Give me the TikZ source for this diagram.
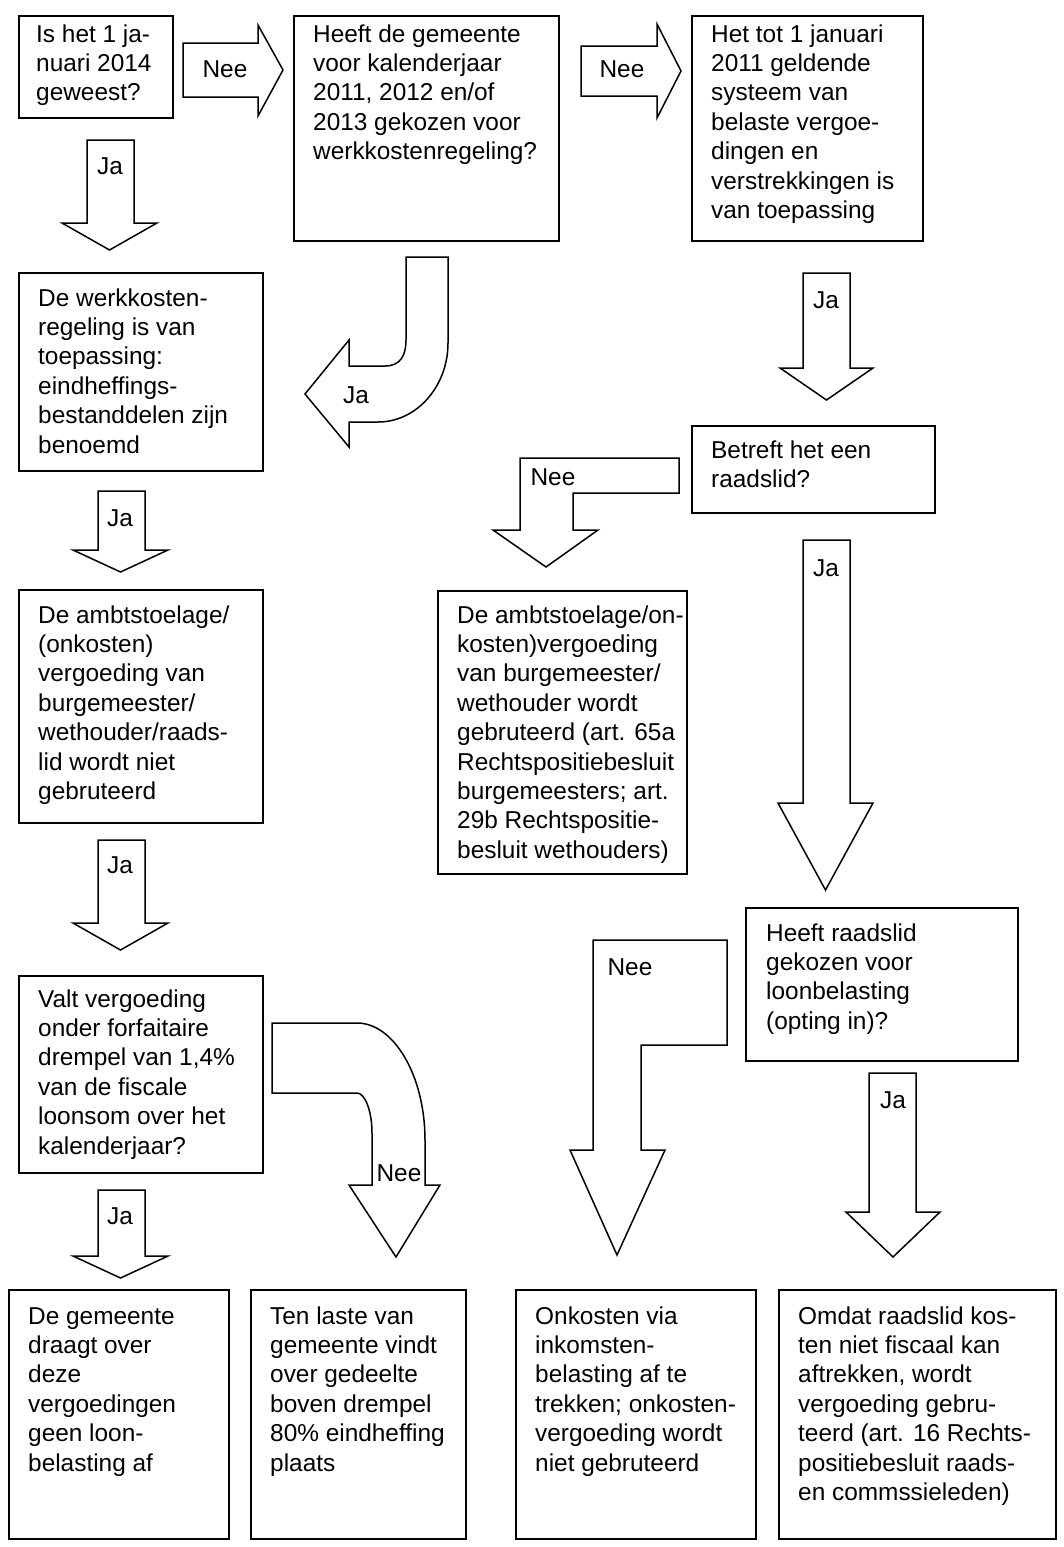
\documentclass[tikz,border=0pt]{standalone}
\usepackage{fontspec}
\setmainfont{Liberation Sans}
\tikzset{
  box/.style={draw, line width=1.8pt, inner sep=0pt},
  blk/.style={draw, line width=1.5pt, fill=white, line join=miter},
  txt/.style={anchor=base west, inner sep=0pt},
  lbl/.style={inner sep=0pt, anchor=center},
}
\newcommand{\mkbox}[5]{\node[box, anchor=north west, minimum width={(#4-#2)*1pt}, minimum height={(#5-#3)*1pt}] (#1) at (#2,#3) {};}
\newcommand{\mktxt}[4]{\node[txt] (#1) at (#2,#3) {\parbox[t]{400pt}{#4}};}
% down arrow: body xl xr, top, base, head hl hr, tip
\newcommand{\DArrow}[7]{\draw[blk] (#1,#3) -- (#2,#3) -- (#2,#4) -- (#6,#4) -- ({(#5+#6)/2},#7) -- (#5,#4) -- (#1,#4) -- cycle;}
\begin{document}
\fontsize{24.4}{29.4}\selectfont
\begin{tikzpicture}[x=1pt,y=-1pt]
\useasboundingbox (0,0) rectangle (1063,1547);

% boxes
\mkbox{A}{18}{15}{172}{117}
\mkbox{B}{293}{15}{558}{240}
\mkbox{C}{691}{15}{922}{240}
\mkbox{D}{18}{272}{262}{470}
\mkbox{E}{18}{589}{262}{822}
\mkbox{F}{18}{975}{262}{1172}
\mkbox{G}{8}{1289}{228}{1538}
\mkbox{H}{250}{1289}{465}{1538}
\mkbox{I}{515}{1289}{755}{1538}
\mkbox{J}{778}{1289}{1055}{1538}
\mkbox{K}{691}{425}{934}{512}
\mkbox{L}{437}{590}{686}{873}
\mkbox{M}{745}{907}{1017}{1060}

% texts
\mktxt{At}{36}{42}{Is het 1 ja-\\nuari 2014\\geweest?}
\mktxt{Bt}{313}{42}{Heeft de gemeente\\voor kalenderjaar\\2011, 2012 en/of\\2013 gekozen voor\\werkkostenregeling?}
\mktxt{Ct}{711}{42}{Het tot 1 januari\\2011 geldende\\systeem van\\belaste vergoe-\\dingen en\\verstrekkingen is\\van toepassing}
\mktxt{Dt}{38}{306}{De werkkosten-\\regeling is van\\toepassing:\\eindheffings-\\bestanddelen zijn\\benoemd}
\mktxt{Et}{38}{623}{De ambtstoelage/\\(onkosten)\\vergoeding van\\burgemeester/\\wethouder/raads-\\lid wordt niet\\gebruteerd}
\mktxt{Ft}{38}{1007}{Valt vergoeding\\onder forfaitaire\\drempel van 1,4\%\\van de fiscale\\loonsom over het\\kalenderjaar?}
\mktxt{Gt}{28}{1324}{De gemeente\\draagt over\\deze\\vergoedingen\\geen loon-\\belasting af}
\mktxt{Ht}{270}{1324}{Ten laste van\\gemeente vindt\\over gedeelte\\boven drempel\\80\% eindheffing\\plaats}
\mktxt{It}{535}{1324}{Onkosten via\\inkomsten-\\belasting af te\\trekken; onkosten-\\vergoeding wordt\\niet gebruteerd}
\mktxt{Jt}{798}{1324}{Omdat raadslid kos-\\ten niet fiscaal kan\\aftrekken, wordt\\vergoeding gebru-\\teerd (art. 16 Rechts-\\positiebesluit raads-\\en commssieleden)}
\mktxt{Kt}{711}{458}{Betreft het een\\raadslid?}
\mktxt{Lt}{457}{623}{De ambtstoelage/on-\\kosten)vergoeding\\van burgemeester/\\wethouder wordt\\gebruteerd (art. 65a\\Rechtspositiebesluit\\burgemeesters; art.\\29b Rechtspositie-\\besluit wethouders)}
\mktxt{Mt}{766}{941}{Heeft raadslid\\gekozen voor\\loonbelasting\\(opting in)?}

% right arrows (Nee)
\draw[blk] (183,43) -- (258,43) -- (258,25) -- (283,70) -- (258,116) -- (258,97) -- (183,97) -- cycle;
\node[lbl] (n1) at (225,69) {Nee};
\draw[blk] (581,46) -- (657,46) -- (657,24) -- (681,71) -- (657,118) -- (657,96) -- (581,96) -- cycle;
\node[lbl] (n2) at (622,69) {Nee};

% straight down arrows (Ja)
\DArrow{87}{134}{140}{223}{62}{157}{250}
\node[lbl] (j1) at (110,166) {Ja};
\DArrow{98}{145}{491}{550}{73}{168}{572}
\node[lbl] (j2) at (120,518) {Ja};
\DArrow{98}{145}{840}{923}{73}{168}{950}
\node[lbl] (j3) at (120,865) {Ja};
\DArrow{98}{145}{1190}{1256}{73}{168}{1278}
\node[lbl] (j4) at (120,1216) {Ja};
\DArrow{803}{850}{273}{368}{780}{873}{400}
\node[lbl] (j5) at (826,300) {Ja};
\DArrow{803}{850}{540}{803}{778}{873}{890}
\node[lbl] (j6) at (826,568) {Ja};
\DArrow{869}{916}{1073}{1212}{846}{940}{1257}
\node[lbl] (j7) at (893,1100) {Ja};

% curved Ja arrow (B -> D)
\draw[blk] (406,257) -- (448,257) -- (448,343)
  .. controls (448,386) and (417,422) .. (378,422)
  -- (349,422) -- (349,447) -- (305,394) -- (349,340) -- (349,366) -- (385,366)
  .. controls (400,366) and (406,356) .. (406,340) -- cycle;
\node[lbl] (j8) at (356,395) {Ja};

% curved Nee arrow (F -> H)
\draw[blk] (272,1023) -- (357,1023)
  .. controls (394,1023) and (425,1076) .. (425,1140)
  -- (425,1185) -- (440,1185) -- (396,1257) -- (349,1185) -- (372,1185) -- (372,1133)
  .. controls (372,1111) and (365,1093) .. (357,1093) -- (272,1093) -- cycle;
\node[lbl] (n3) at (399,1173) {Nee};

% bent Nee arrow (K -> L)
\draw[blk] (520,458) -- (679,458) -- (679,493) -- (573,493) -- (573,530) -- (598,530)
  -- (546,567) -- (493,530) -- (520,530) -- cycle;
\node[lbl] (n4) at (553,477) {Nee};

% bent Nee arrow (M -> I)
\draw[blk] (593,940) -- (727,940) -- (727,1045) -- (641,1045) -- (641,1150) -- (665,1150)
  -- (617,1255) -- (570,1150) -- (593,1150) -- cycle;
\node[lbl] (n5) at (630,967) {Nee};
\end{tikzpicture}
\end{document}
